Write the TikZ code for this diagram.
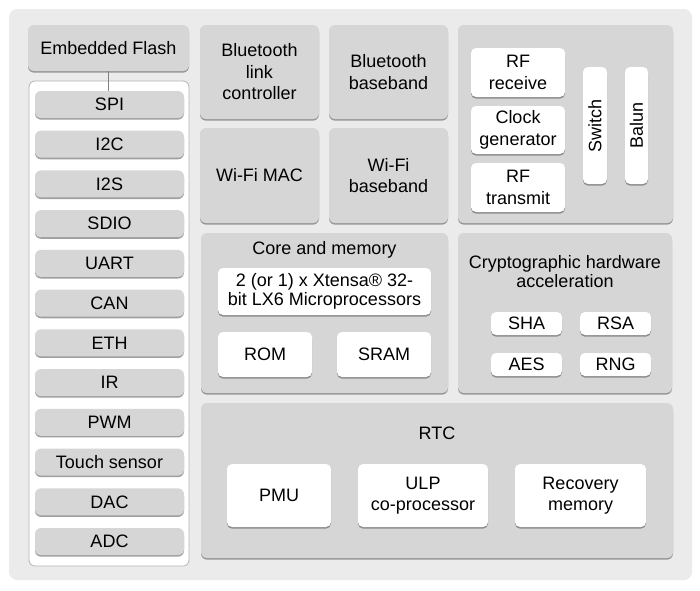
\documentclass[tikz,border=0pt]{standalone}
\usepackage{fontspec}
\setmainfont{Liberation Sans}
\usetikzlibrary{shadows}
\definecolor{bggray}{HTML}{EBEBEB}
\definecolor{blkgray}{HTML}{D6D6D6}
\definecolor{edgegray}{HTML}{B4B4B4}
\newcommand\myfs{\fontsize{18}{21.5}\selectfont}
\newcommand\myfst{\fontsize{18}{19}\selectfont}
\tikzset{
  shd/.style={drop shadow={shadow xshift=0pt,shadow yshift=-1.6pt,fill=black!75,opacity=0.5}},
  blk/.style={fill=blkgray, rounded corners=6pt, shd, inner sep=0pt, align=center, font=\myfs},
  pbox/.style={blk, minimum width=149pt, minimum height=27pt},
  wbox/.style={fill=white, rounded corners=5pt, shd, inner sep=0pt, align=center, font=\myfs},
  ttl/.style={inner sep=0pt, align=center, font=\myfst},
}
\begin{document}
\begin{tikzpicture}[x=1pt,y=-1pt]
\useasboundingbox (0,0) rectangle (700,590);
\fill[bggray, rounded corners=8pt] (9,9) rectangle (692,580);
% left column
\node[blk, minimum width=161pt, minimum height=46pt] (flash) at (108.5,48) {Embedded Flash};
\node[fill=white, draw=edgegray, line width=0.8pt, rounded corners=6pt, minimum width=160pt, minimum height=485pt, inner sep=0pt] (cont) at (109,323.5) {};
\foreach \n/\t [count=\k from 0] in {spi/SPI,iic/I2C,iis/I2S,sdio/SDIO,uart/UART,can/CAN,eth/ETH,ir/IR,pwm/PWM,touch/Touch sensor,dac/DAC,adc/ADC}
  \node[pbox] (\n) at (109.5,{104.5+39.73*\k}) {\t};
\draw[gray, line width=0.8pt] (flash.south) -- (flash.south |- spi.north);
% wireless blocks
\node[blk, minimum width=119pt, minimum height=94pt] (btlc) at (259.5,72) {Bluetooth\\link\\controller};
\node[blk, minimum width=119pt, minimum height=94pt] (btbb) at (388.5,72) {Bluetooth\\baseband};
\node[blk, minimum width=119pt, minimum height=95pt] (wmac) at (259.5,175.5) {Wi-Fi MAC};
\node[blk, minimum width=119pt, minimum height=95pt] (wbb) at (388.5,175.5) {Wi-Fi\\baseband};
% RF
\node[blk, minimum width=215pt, minimum height=198pt] (rf) at (565.5,124) {};
\node[wbox, minimum width=94pt, minimum height=49pt] (rfrx) at (518,72.5) {RF\\receive};
\node[wbox, minimum width=94pt, minimum height=48pt] (clk) at (518,130) {Clock\\generator};
\node[wbox, minimum width=94pt, minimum height=49pt] (rftx) at (518,187.5) {RF\\transmit};
\node[wbox, minimum width=24pt, minimum height=117pt] (sw) at (595,125.5) {};
\node[rotate=90, font=\myfs, inner sep=0pt] (swt) at (sw.center) {Switch};
\node[wbox, minimum width=23pt, minimum height=117pt] (bal) at (636.5,125.5) {};
\node[rotate=90, font=\myfs, inner sep=0pt] (balt) at (bal.center) {Balun};
% core and memory
\node[blk, minimum width=247pt, minimum height=160pt] (core) at (324.5,313) {};
\node[ttl] (coret) at (324.5,250) {Core and memory};
\node[wbox, minimum width=213pt, minimum height=47pt, font=\myfst] (cpu) at (324.5,291.5) {2 (or 1) x Xtensa® 32-\\bit LX6 Microprocessors};
\node[wbox, minimum width=94pt, minimum height=45pt] (rom) at (265,354.5) {ROM};
\node[wbox, minimum width=94pt, minimum height=45pt] (sram) at (384,354.5) {SRAM};
% crypto
\node[blk, minimum width=214pt, minimum height=160pt] (cry) at (565,313) {};
\node[ttl] (cryt) at (565,272) {Cryptographic hardware\\acceleration};
\node[wbox, minimum width=71pt, minimum height=23pt] (sha) at (526.5,323.5) {SHA};
\node[wbox, minimum width=71pt, minimum height=23pt] (rsa) at (615.5,323.5) {RSA};
\node[wbox, minimum width=71pt, minimum height=23pt] (aes) at (526.5,364.5) {AES};
\node[wbox, minimum width=71pt, minimum height=23pt] (rng) at (615.5,364.5) {RNG};
% RTC
\node[blk, minimum width=472pt, minimum height=155pt] (rtc) at (437,480.5) {};
\node[ttl] (rtct) at (437,433) {RTC};
\node[wbox, minimum width=104pt, minimum height=63pt] (pmu) at (279,495.5) {PMU};
\node[wbox, minimum width=130pt, minimum height=63pt] (ulp) at (423,495.5) {ULP\\co-processor};
\node[wbox, minimum width=131pt, minimum height=63pt] (rec) at (580.5,495.5) {Recovery\\memory};
\end{tikzpicture}
\end{document}
